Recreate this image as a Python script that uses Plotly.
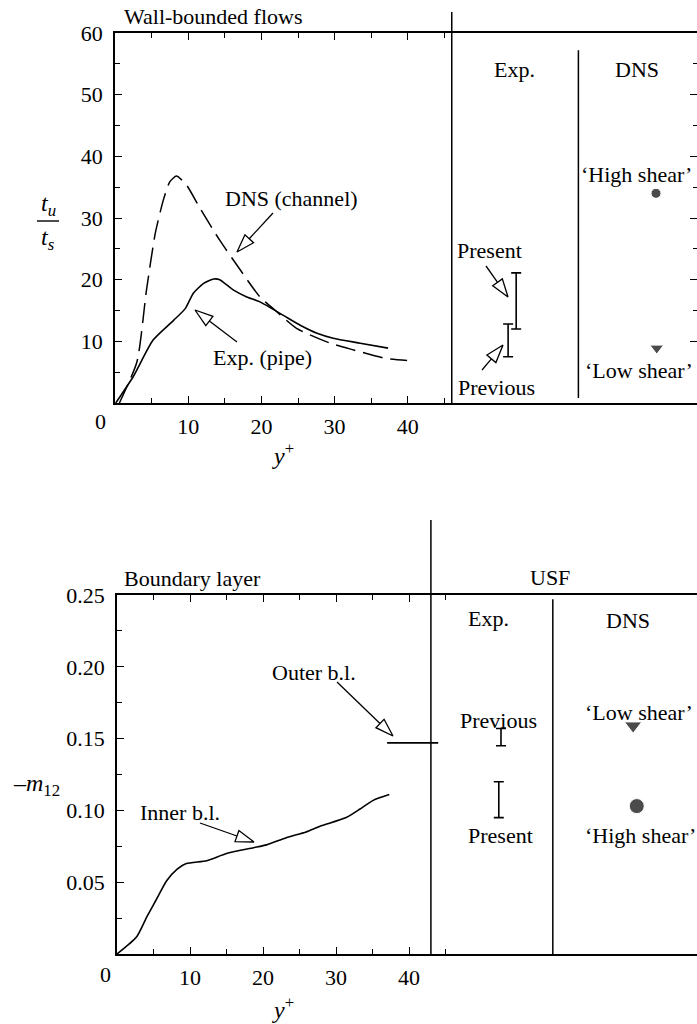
import math
import plotly.graph_objects as go

W, H = 697, 1024
FONT = "Liberation Serif"
FS = 22
FS_TITLE = 24

# ---------------- data: top panel (t_u / t_s versus y+) ----------------
dns_channel_x = [0.6, 3.0, 4.3, 5.5, 6.6, 7.5, 8.4, 9.8, 11.6, 14.3, 17.1, 19.8, 22.1, 24.8, 29.4, 32.6, 37.1, 39.9]
dns_channel_y = [0.0, 6.7, 18.3, 27.5, 32.9, 35.9, 36.8, 35.3, 31.6, 26.4, 21.6, 17.2, 14.8, 12.1, 9.7, 8.6, 7.2, 6.9]
exp_pipe_x = [0.1, 2.5, 5.2, 8.0, 9.6, 10.7, 12.1, 13.5, 14.3, 16.2, 18.0, 19.8, 23.0, 25.3, 27.6, 29.8, 33.5, 37.3]
exp_pipe_y = [0.0, 4.3, 10.2, 13.4, 15.3, 17.8, 19.4, 20.1, 20.0, 18.3, 17.2, 16.4, 14.2, 12.6, 11.3, 10.5, 9.7, 8.9]

top_exp_labels = ["Present", "Previous"]
top_exp_pos = [54.8, 53.7]
top_exp_lo = [12.0, 7.5]
top_exp_hi = [21.1, 12.8]

top_dns_labels = ["High shear", "Low shear"]
top_dns_pos = [73.9, 74.0]
top_dns_val = [34.0, 8.9]
top_dns_symbols = ["circle", "triangle-down"]

# ---------------- data: bottom panel (-m12 versus y+) ----------------
inner_bl_x = [0.0, 2.7, 4.1, 5.4, 6.8, 8.2, 9.5, 12.3, 15.0, 18.7, 20.5, 23.2, 25.9, 27.8, 31.4, 33.3, 35.1, 37.3]
inner_bl_y = [0.0, 0.012, 0.026, 0.038, 0.051, 0.059, 0.063, 0.065, 0.070, 0.074, 0.076, 0.081, 0.085, 0.089, 0.095, 0.101, 0.107, 0.111]

outer_bl_x = [37.0, 44.0]
outer_bl_y = [0.147, 0.147]

bot_exp_labels = ["Previous", "Present"]
bot_exp_pos = [52.6, 52.3]
bot_exp_lo = [0.145, 0.095]
bot_exp_hi = [0.157, 0.120]

bot_dns_labels = ["Low shear", "High shear"]
bot_dns_pos = [70.7, 71.2]
bot_dns_val = [0.159, 0.103]
bot_dns_symbols = ["triangle-down", "circle"]

# ---------------- layout geometry (pixels) ----------------
TOP = dict(left=115, top=33, bottom=403, xmax=79.5, ymax=60.0, xa="x", ya="y")
BOT = dict(left=117, top=595, bottom=954, xmax=79.45, ymax=0.25, xa="x2", ya="y2")


def px2data(panel, px, py):
    x = (px - panel["left"]) / (W - panel["left"]) * panel["xmax"]
    y = (panel["bottom"] - py) / (panel["bottom"] - panel["top"]) * panel["ymax"]
    return x, y


def pxp(px):
    return px / W


def pyp(py):
    return 1 - py / H


fig = go.Figure()

# top curves
fig.add_trace(go.Scatter(x=dns_channel_x, y=dns_channel_y, mode="lines", xaxis="x", yaxis="y",
                         line=dict(color="black", width=1.5, dash="20px,8px", shape="spline", smoothing=0.6)))
fig.add_trace(go.Scatter(x=exp_pipe_x, y=exp_pipe_y, mode="lines", xaxis="x", yaxis="y",
                         line=dict(color="black", width=1.6, shape="spline", smoothing=0.6)))


def range_trace(pos, lo, hi, xa, ya):
    return go.Scatter(
        x=pos, y=[(a + b) / 2 for a, b in zip(lo, hi)], mode="markers", xaxis=xa, yaxis=ya,
        marker=dict(size=1, color="rgba(0,0,0,0)"),
        error_y=dict(type="data", symmetric=False,
                     array=[(b - a) / 2 for a, b in zip(lo, hi)],
                     arrayminus=[(b - a) / 2 for a, b in zip(lo, hi)],
                     width=5, thickness=1.6, color="black"))


fig.add_trace(range_trace(top_exp_pos, top_exp_lo, top_exp_hi, "x", "y"))
fig.add_trace(go.Scatter(x=top_dns_pos, y=top_dns_val, mode="markers", xaxis="x", yaxis="y",
                         marker=dict(symbol=top_dns_symbols, size=[10, 12], color="black")))

# bottom curves
fig.add_trace(go.Scatter(x=inner_bl_x, y=inner_bl_y, mode="lines", xaxis="x2", yaxis="y2",
                         line=dict(color="black", width=1.6, shape="spline", smoothing=0.6)))
fig.add_trace(go.Scatter(x=outer_bl_x, y=outer_bl_y, mode="lines", xaxis="x2", yaxis="y2",
                         line=dict(color="black", width=1.6)))
fig.add_trace(range_trace(bot_exp_pos, bot_exp_lo, bot_exp_hi, "x2", "y2"))
fig.add_trace(go.Scatter(x=bot_dns_pos, y=bot_dns_val, mode="markers", xaxis="x2", yaxis="y2",
                         marker=dict(symbol=bot_dns_symbols, size=[15, 15], color="black")))

# dummy trace for the right-hand tick axis of the top panel
fig.add_trace(go.Scatter(x=[None], y=[None], xaxis="x", yaxis="y3", hoverinfo="skip"))

# ---------------- arrows (open heads + shafts) ----------------
ARROW_SIZE = 19
HEAD_LEN = ARROW_SIZE * 0.95
arrows = [  # panel, tip px, tail px
    (TOP, (237, 252), (273, 213)),
    (TOP, (195, 310), (237, 342)),
    (TOP, (508, 297), (486, 266)),
    (TOP, (503, 345), (482, 370)),
    (BOT, (393, 736), (337, 682)),
    (BOT, (254, 842), (200, 823)),
]
shapes = []
for panel in (TOP, BOT):
    xs, ys, angs = [], [], []
    for pnl, tip, tail in arrows:
        if pnl is not panel:
            continue
        tx, ty = px2data(panel, *tip)
        dx, dy = tail[0] - tip[0], tail[1] - tip[1]
        d = math.hypot(dx, dy)
        base = (tip[0] + dx / d * HEAD_LEN, tip[1] + dy / d * HEAD_LEN)
        bx, by = px2data(panel, *base)
        lx, ly = px2data(panel, *tail)
        xs.append(tx)
        ys.append(ty)
        angs.append(math.degrees(math.atan2(-dx, dy)))
        shapes.append(dict(type="line", xref=panel["xa"], yref=panel["ya"], x0=lx, y0=ly, x1=bx, y1=by,
                           line=dict(color="black", width=1.3)))
    fig.add_trace(go.Scatter(x=xs, y=ys, mode="markers", xaxis=panel["xa"], yaxis=panel["ya"],
                             cliponaxis=False,
                             marker=dict(symbol="arrow-open", size=ARROW_SIZE, angle=angs,
                                         color="black", line=dict(color="black", width=1.3))))

# ---------------- texts ----------------
texts = [
    ("Wall-bounded flows", 213, 16, FS),
    ("DNS (channel)", 291, 198, FS),
    ("Exp. (pipe)", 262, 357, FS),
    ("Exp.", 514, 69, FS),
    ("DNS", 637, 69, FS),
    ("\u2018High shear\u2019", 636, 174, FS),
    ("\u2018Low shear\u2019", 639, 370, FS),
    ("Present", 489, 250, FS),
    ("Previous", 496, 387, FS),
    ("0", 100, 421, FS),
    ("<i>t<sub>u</sub></i>", 48, 205, FS_TITLE),
    ("<i>t<sub>s</sub></i>", 48, 239, FS_TITLE),
    ("<i>y</i><sup>+</sup>", 283, 454, FS_TITLE),
    ("Boundary layer", 192, 578, FS),
    ("USF", 550, 577, FS),
    ("Exp.", 488, 618, FS),
    ("DNS", 628, 620, FS),
    ("Outer b.l.", 314, 672, FS),
    ("Inner b.l.", 180, 812, FS),
    ("Previous", 498, 720, FS),
    ("Present", 500, 835, FS),
    ("\u2018Low shear\u2019", 639, 712, FS),
    ("\u2018High shear\u2019", 640, 835, FS),
    ("0", 106, 974, FS),
    ("\u2013<i>m</i><sub>12</sub>", 36, 785, FS_TITLE),
    ("<i>y</i><sup>+</sup>", 283, 1008, FS_TITLE),
]
annotations = []
for t, x, y, s in texts:
    annotations.append(dict(text=t, x=pxp(x), y=pyp(y), xref="paper", yref="paper",
                            xanchor="center", yanchor="middle", showarrow=False,
                            font=dict(family=FONT, size=s, color="black")))

# ---------------- dividers & fraction bar ----------------
top_exp_div_x, top_dns_div_x = 46.0, 63.3
bot_exp_div_x, bot_dns_div_x = 43.0, 59.7
line_style = dict(color="black", width=1.5)
shapes += [
    dict(type="line", xref="x", yref="paper", x0=top_exp_div_x, x1=top_exp_div_x,
         y0=pyp(403), y1=pyp(12), line=line_style),
    dict(type="line", xref="x", yref="y", x0=top_dns_div_x, x1=top_dns_div_x,
         y0=0.8, y1=57.2, line=line_style),
    dict(type="line", xref="x2", yref="paper", x0=bot_exp_div_x, x1=bot_exp_div_x,
         y0=pyp(954), y1=pyp(520), line=line_style),
    dict(type="line", xref="x2", yref="y2", x0=bot_dns_div_x, x1=bot_dns_div_x,
         y0=0.0, y1=0.247, line=line_style),
    dict(type="line", xref="paper", yref="paper", x0=pxp(37), x1=pxp(59),
         y0=pyp(221), y1=pyp(221), line=dict(color="black", width=1.4)),
]

tickfont = dict(family=FONT, size=FS, color="black")
common = dict(showgrid=False, zeroline=False, showline=True, linecolor="black", linewidth=1.6,
              ticks="inside", tickcolor="black", tickwidth=1.3, tickfont=tickfont)

x_major = [10, 20, 30, 40]
x_major_text = ["10", "20", "30", "40"]
x_minor = [5, 15, 25, 35, 45]

top_y_major = [10, 20, 30, 40, 50, 60]
top_y_minor = [5, 15, 25, 35, 45, 55]
bot_y_major = [0.05, 0.10, 0.15, 0.20, 0.25]
bot_y_major_text = ["0.05", "0.10", "0.15", "0.20", "0.25"]
bot_y_minor = [0.025, 0.075, 0.125, 0.175, 0.225]


def minor(vals, ln=5):
    return dict(tickmode="array", tickvals=vals, ticks="inside", ticklen=ln,
                tickcolor="black", tickwidth=1.3)


fig.update_layout(
    width=W, height=H, margin=dict(l=0, r=0, t=0, b=0, autoexpand=False),
    paper_bgcolor="white", plot_bgcolor="white", showlegend=False,
    xaxis=dict(domain=[pxp(TOP["left"]), 1], range=[0, TOP["xmax"]], anchor="y", mirror="ticks",
               tickmode="array", tickvals=x_major, ticktext=x_major_text, ticklen=7,
               minor=minor(x_minor), ticklabelstandoff=3, **common),
    yaxis=dict(domain=[pyp(TOP["bottom"]), pyp(TOP["top"])], range=[0, TOP["ymax"]], anchor="x",
               tickmode="array", tickvals=top_y_major, ticktext=[str(v) for v in top_y_major], ticklen=7,
               minor=minor(top_y_minor), ticklabelstandoff=6, **common),
    yaxis3=dict(overlaying="y", side="right", anchor="x", range=[0, TOP["ymax"]],
                showgrid=False, zeroline=False, showline=False, showticklabels=False,
                ticks="inside", tickcolor="black", tickwidth=1.3, ticklen=7,
                tickmode="array", tickvals=[10, 20, 30, 40, 50], minor=minor([15, 25, 35, 45, 55], 4)),
    xaxis2=dict(domain=[pxp(BOT["left"]), 1], range=[0, BOT["xmax"]], anchor="y2", mirror="ticks",
                tickmode="array", tickvals=x_major, ticktext=x_major_text, ticklen=7,
                minor=minor(x_minor), ticklabelstandoff=3, **common),
    yaxis2=dict(domain=[pyp(BOT["bottom"]), pyp(BOT["top"])], range=[0, BOT["ymax"]], anchor="x2",
                tickmode="array", tickvals=bot_y_major, ticktext=bot_y_major_text, ticklen=7,
                minor=minor(bot_y_minor), ticklabelstandoff=6, **common),
    annotations=annotations,
    shapes=shapes,
)

fig.write_html(
    "out.html",
    config={"displayModeBar": False},
    post_script="document.body.style.margin='0';document.body.style.padding='0';"
                "document.body.style.overflow='hidden';",
)
